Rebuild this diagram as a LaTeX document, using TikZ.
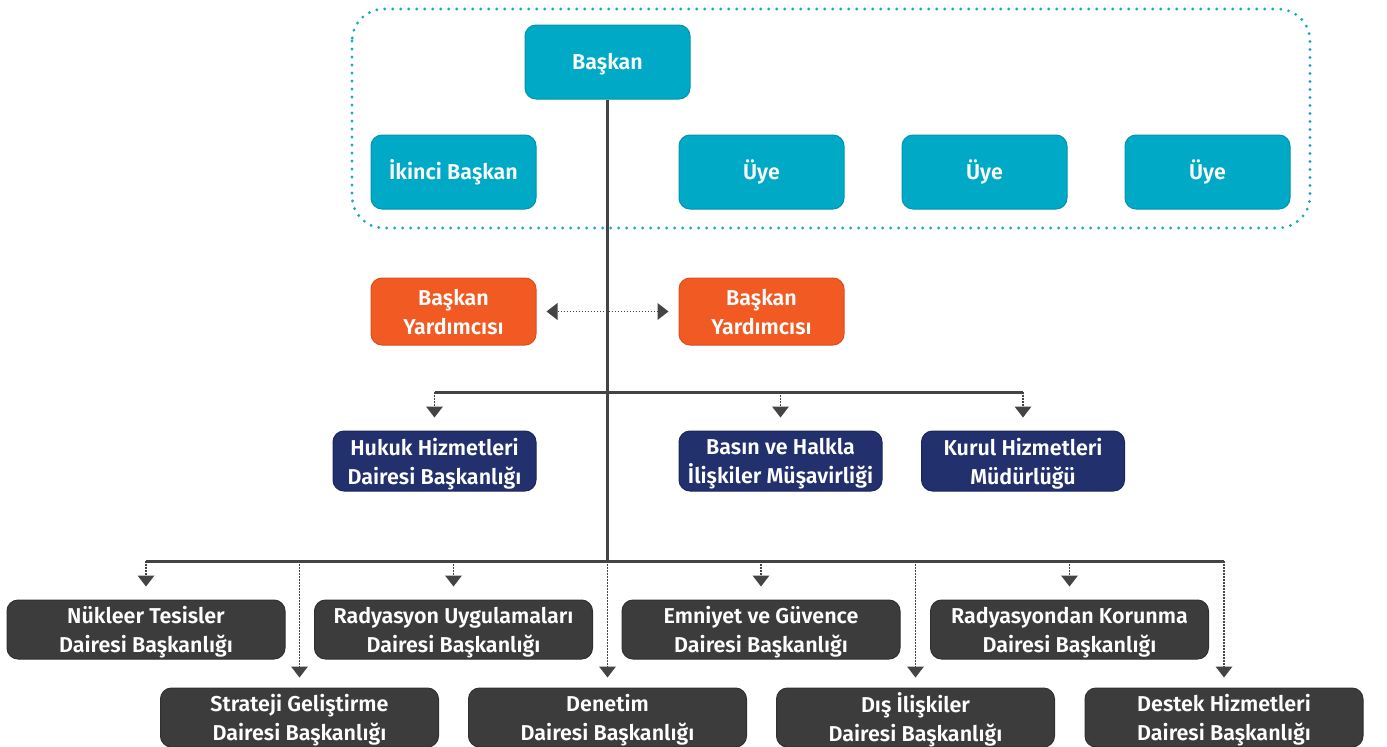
\documentclass[tikz,border=0pt]{standalone}
\usepackage{fontspec}
\setmainfont{Fira Sans}[BoldFont={Fira Sans SemiBold}]
\usetikzlibrary{arrows.meta}
\definecolor{tealc}{HTML}{00A9C6}
\definecolor{tealdk}{HTML}{0094AE}
\definecolor{orangec}{HTML}{F15A22}
\definecolor{orangedk}{HTML}{DC4E1C}
\definecolor{navyc}{HTML}{22306E}
\definecolor{navydk}{HTML}{1B275C}
\definecolor{grayc}{HTML}{3C3C3C}
\definecolor{graydk}{HTML}{303030}
\definecolor{linec}{HTML}{444444}
\definecolor{dotc}{HTML}{1AA7C8}
\begin{document}
\begin{tikzpicture}[x=1pt,y=-1pt,
  box/.style={rounded corners=11pt, text=white, align=center, inner sep=0pt,
    font=\bfseries\fontsize{21.5}{29}\selectfont, line width=1pt, text depth=0pt},
  tealbox/.style={box, fill=tealc, draw=tealdk, minimum width=165pt, minimum height=74pt, text height=15pt},
  orangebox/.style={box, fill=orangec, draw=orangedk, minimum width=165pt, minimum height=67pt},
  navybox/.style={box, fill=navyc, draw=navydk, minimum width=203pt, minimum height=60pt},
  graybox/.style={box, fill=grayc, draw=graydk, minimum width=278pt, minimum height=59pt},
  trunk/.style={draw=linec, line width=3pt},
  drop/.style={draw=linec, line width=1.5pt, dash pattern=on 1.5pt off 1.5pt,
    -{Triangle[width=17pt,length=11pt,line width=0pt,fill=linec]}},
  dbl/.style={draw=linec, line width=1.5pt, dash pattern=on 1.5pt off 1.5pt,
    {Triangle[width=17pt,length=11pt,line width=0pt,fill=linec]}-{Triangle[width=17pt,length=11pt,line width=0pt,fill=linec]}},
  dotframe/.style={draw=dotc, line width=3.2pt, line cap=round, dash pattern=on 0pt off 8pt, rounded corners=32pt}
]
\useasboundingbox (0,0) rectangle (1387,747);
\begin{scope}
\clip (0,0) rectangle (1387,747);
% dotted frame
\draw[dotframe] (352,9) rectangle (1310,228);

% top group
\node[tealbox] (baskan) at (607.5,62) {Başkan};
\node[tealbox] (ikinci) at (453.5,172) {İkinci Başkan};
\node[tealbox] (uye1) at (761.5,172) {Üye};
\node[tealbox] (uye2) at (984.5,172) {Üye};
\node[tealbox] (uye3) at (1207.5,172) {Üye};

% vice presidents
\node[orangebox] (yard1) at (453.5,311.5) {Başkan\\Yardımcısı};
\node[orangebox] (yard2) at (761.5,311.5) {Başkan\\Yardımcısı};

% navy
\node[navybox] (hukuk) at (434.5,461) {Hukuk Hizmetleri\\Dairesi Başkanlığı};
\node[navybox] (basin) at (780.5,461) {Basın ve Halkla\\İlişkiler Müşavirliği};
\node[navybox] (kurul) at (1023,461) {Kurul Hizmetleri\\Müdürlüğü};

% gray upper row
\node[graybox] (nukleer) at (146,629.5) {Nükleer Tesisler\\Dairesi Başkanlığı};
\node[graybox] (radyuyg) at (453.5,629.5) {Radyasyon Uygulamaları\\Dairesi Başkanlığı};
\node[graybox] (emniyet) at (761,629.5) {Emniyet ve Güvence\\Dairesi Başkanlığı};
\node[graybox] (radkor) at (1069.5,629.5) {Radyasyondan Korunma\\Dairesi Başkanlığı};
% gray lower row
\node[graybox] (strateji) at (299.5,717.5) {Strateji Geliştirme\\Dairesi Başkanlığı};
\node[graybox] (denetim) at (607.5,717.5) {Denetim\\Dairesi Başkanlığı};
\node[graybox] (dis) at (915.5,717.5) {Dış İlişkiler\\Dairesi Başkanlığı};
\node[graybox] (destek) at (1224,717.5) {Destek Hizmetleri\\Dairesi Başkanlığı};

% coordinates
\coordinate (t2) at (607.5,561);
\coordinate (h1L) at (434.5,392);
\coordinate (h1R) at (1023,392);
\coordinate (h2L) at (146,561);
\coordinate (h2R) at (1224,561);

% trunk and bars
\draw[trunk] (baskan.south) -- (t2);
\draw[trunk] (h1L) -- (h1R);
\draw[trunk] (h2L) -- (h2R);

% double arrow
\draw[dbl, shorten <=10pt, shorten >=10pt] (yard1.east) -- (yard2.west);

% drops to navy
\draw[drop, shorten >=13pt] (h1L) -- (hukuk.north);
\draw[drop, shorten >=13pt] (basin.north |- h1L) -- (basin.north);
\draw[drop, shorten >=13pt] (h1R) -- (kurul.north);

% drops to gray
\draw[drop, shorten >=13pt] (h2L) -- (nukleer.north);
\draw[drop, shorten >=13pt] (radyuyg.north |- h2L) -- (radyuyg.north);
\draw[drop, shorten >=13pt] (emniyet.north |- h2L) -- (emniyet.north);
\draw[drop, shorten >=13pt] (radkor.north |- h2L) -- (radkor.north);
\draw[drop, shorten >=10pt] (strateji.north |- h2L) -- (strateji.north);
\draw[drop, shorten >=10pt] (t2) -- (denetim.north);
\draw[drop, shorten >=10pt] (dis.north |- h2L) -- (dis.north);
\draw[drop, shorten >=10pt] (h2R) -- (destek.north);
\end{scope}
\end{tikzpicture}
\end{document}
